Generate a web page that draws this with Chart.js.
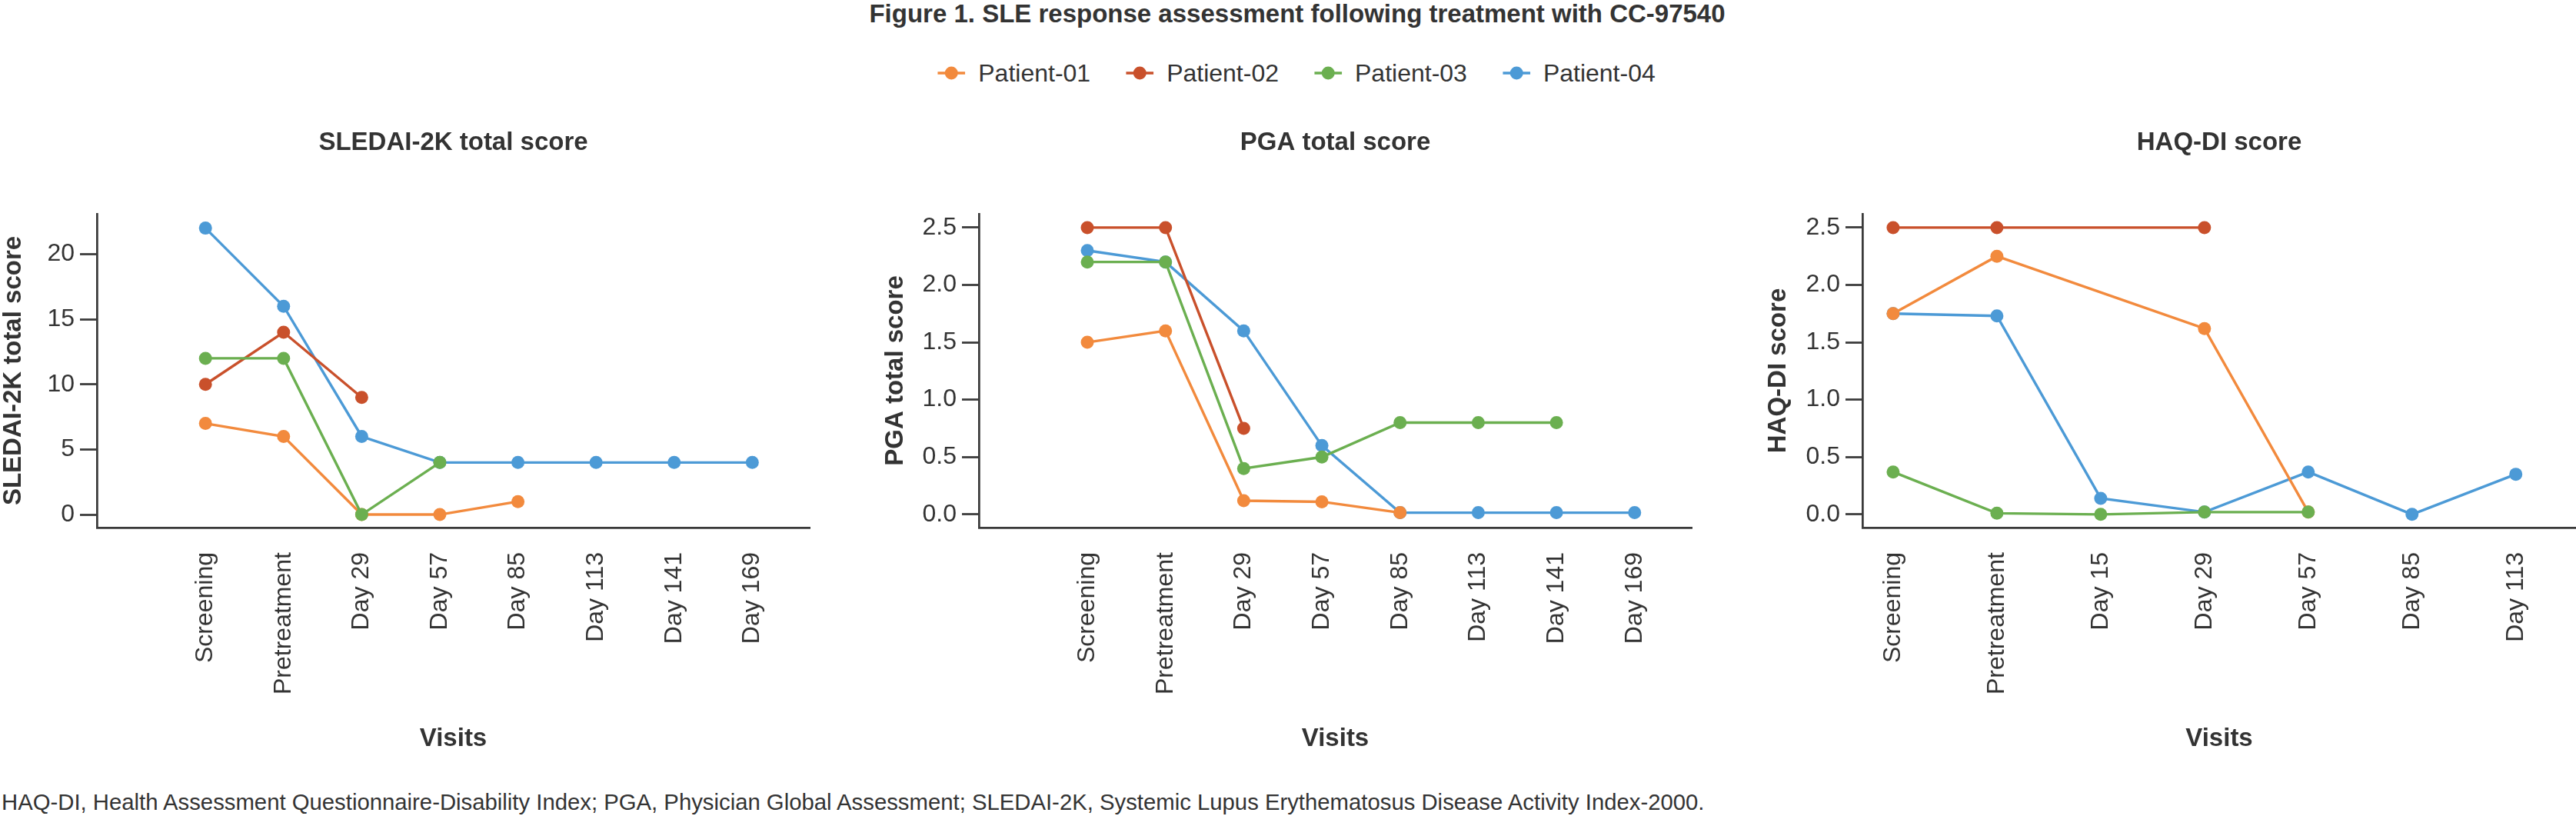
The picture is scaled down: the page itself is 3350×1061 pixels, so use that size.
<!DOCTYPE html>
<html>
<head>
<meta charset="utf-8">
<script src="https://cdn.jsdelivr.net/npm/chart.js@4.4.1/dist/chart.umd.min.js"></script>
<style>
html, body { margin: 0; padding: 0; background: #ffffff; overflow: hidden; }
body { width: 3350px; height: 1061px; position: relative; font-family: "Liberation Sans", Arial, Helvetica, sans-serif; color: #333333; }
#fig-title { position: absolute; left: 1687px; top: -2px; transform: translateX(-50%); white-space: nowrap; font-size: 33px; line-height: 40px; font-weight: bold; }
#legend { position: absolute; left: 1686px; top: 75px; transform: translateX(-50%); display: flex; align-items: center; white-space: nowrap; }
.leg-item { display: flex; align-items: center; margin: 0 23px; font-size: 32px; line-height: 40px; }
.leg-item svg { margin-right: 17px; }
#footnote { position: absolute; left: 2px; top: 1026px; white-space: nowrap; font-size: 29.3px; line-height: 34px; }
canvas { position: absolute; }
</style>
</head>
<body>
<div id="fig-title">Figure 1. SLE response assessment following treatment with CC-97540</div>
<div id="legend"></div>
<canvas id="c1" width="1100" height="860" style="left:0px;top:140px;"></canvas>
<canvas id="c2" width="1110" height="860" style="left:1140px;top:140px;"></canvas>
<canvas id="c3" width="1130" height="860" style="left:2270px;top:140px;"></canvas>
<div id="footnote">HAQ-DI, Health Assessment Questionnaire-Disability Index; PGA, Physician Global Assessment; SLEDAI-2K, Systemic Lupus Erythematosus Disease Activity Index-2000.</div>
<script>
// ---------- DATA ----------
const patients = ['Patient-01', 'Patient-02', 'Patient-03', 'Patient-04'];

const visitsSledai = ['Screening', 'Pretreatment', 'Day 29', 'Day 57', 'Day 85', 'Day 113', 'Day 141', 'Day 169'];
const visitsPga = ['Screening', 'Pretreatment', 'Day 29', 'Day 57', 'Day 85', 'Day 113', 'Day 141', 'Day 169'];
const visitsHaq = ['Screening', 'Pretreatment', 'Day 15', 'Day 29', 'Day 57', 'Day 85', 'Day 113'];

const sledai01 = [7, 6, 0, 0, 1];
const sledai02 = [10, 14, 9];
const sledai03 = [12, 12, 0, 4];
const sledai04 = [22, 16, 6, 4, 4, 4, 4, 4];

const pga01 = [1.5, 1.6, 0.12, 0.11, 0.015];
const pga02 = [2.5, 2.5, 0.75];
const pga03 = [2.2, 2.2, 0.4, 0.5, 0.8, 0.8, 0.8];
const pga04 = [2.3, 2.2, 1.6, 0.6, 0.015, 0.015, 0.015, 0.015];

const haq01 = [1.75, 2.25, null, 1.62, 0.02];
const haq02 = [2.5, 2.5, null, 2.5];
const haq03 = [0.37, 0.01, 0, 0.02, 0.02];
const haq04 = [1.75, 1.73, 0.14, 0.02, 0.37, 0, 0.35];

const sledaiTicks = [0, 5, 10, 15, 20];
const pgaTicks = [0, 0.5, 1, 1.5, 2, 2.5];
const haqTicks = [0, 0.5, 1, 1.5, 2, 2.5];

// ---------- STYLE ----------
const COLORS = ['#F28A3D', '#C9502B', '#6BAF50', '#4C9AD6'];
const DRAW_ORDER = [1, 2, 0, 3]; // lower = drawn on top
const AXIS = '#3a3a3a';
const TXT = '#333333';

Chart.defaults.font.family = '"Liberation Sans", Arial, Helvetica, sans-serif';
Chart.defaults.color = TXT;

// legend (HTML)
const legendEl = document.getElementById('legend');
patients.forEach((p, k) => {
  const item = document.createElement('div');
  item.className = 'leg-item';
  item.innerHTML = '<svg width="36" height="40" viewBox="0 0 36 40"><line x1="0" y1="20" x2="36" y2="20" stroke="' + COLORS[k] + '" stroke-width="3.5"/><circle cx="18" cy="20" r="8.5" fill="' + COLORS[k] + '"/></svg><span>' + p + '</span>';
  legendEl.appendChild(item);
});

function makePanel(canvasId, cfg) {
  const datasets = cfg.series.map((arr, k) => ({
    label: patients[k],
    data: arr.map((v, i) => ({ x: i, y: v })),
    borderColor: COLORS[k],
    backgroundColor: COLORS[k],
    pointBackgroundColor: COLORS[k],
    pointBorderColor: COLORS[k],
    pointBorderWidth: 0,
    pointRadius: 8.5,
    pointHoverRadius: 8.5,
    borderWidth: 3.4,
    tension: 0,
    spanGaps: true,
    order: DRAW_ORDER[k],
    clip: false
  }));
  return new Chart(document.getElementById(canvasId), {
    type: 'line',
    data: { datasets },
    options: {
      responsive: false,
      animation: false,
      events: [],
      layout: { padding: { left: 0, right: cfg.padRight, top: 0, bottom: 0 } },
      plugins: {
        legend: { display: false },
        tooltip: { enabled: false },
        title: {
          display: true, text: cfg.title, fullSize: false, color: TXT,
          font: { size: 33, weight: 'bold', lineHeight: 1.2 },
          padding: { top: 26.2, bottom: 72.2 }
        }
      },
      scales: {
        x: {
          type: 'linear', position: 'bottom', min: cfg.xMin, max: cfg.xMax,
          afterBuildTicks: s => { s.ticks = cfg.visits.map((_, i) => ({ value: i })); },
          afterFit: s => { s.height = 314; },
          ticks: {
            autoSkip: false, minRotation: 90, maxRotation: 90, padding: 32,
            font: { size: 32 }, color: TXT,
            callback: v => cfg.visits[v]
          },
          grid: { display: false, drawTicks: false, drawOnChartArea: false },
          border: { display: true, color: AXIS, width: 2.75 },
          title: {
            display: true, text: 'Visits', color: TXT,
            font: { size: 33, weight: 'bold', lineHeight: 1.2 },
            padding: { top: 0, bottom: 19.6 }
          }
        },
        y: {
          type: 'linear', position: 'left', min: cfg.yMin, max: cfg.yMax,
          afterBuildTicks: s => { s.ticks = cfg.yTicks.map(v => ({ value: v })); },
          afterFit: s => { s.width = cfg.yWidth; },
          ticks: {
            padding: 7, font: { size: 32 }, color: TXT,
            callback: v => Number(v).toFixed(cfg.decimals)
          },
          grid: { display: true, drawOnChartArea: false, drawTicks: true, tickLength: 22, tickWidth: 2.75, tickColor: AXIS },
          border: { display: true, color: AXIS, width: 2.75 },
          title: {
            display: true, text: cfg.yTitle, color: TXT,
            font: { size: 33, weight: 'bold', lineHeight: 1 },
            padding: { top: cfg.yTitlePad, bottom: 0 }
          }
        }
      }
    }
  });
}

makePanel('c1', {
  title: 'SLEDAI-2K total score', yTitle: 'SLEDAI-2K total score',
  visits: visitsSledai, series: [sledai01, sledai02, sledai03, sledai04],
  yTicks: sledaiTicks, decimals: 0, yMin: -1, yMax: 23.1,
  xMin: -1.39, xMax: 7.735, yWidth: 126, yTitlePad: 1, padRight: 47
});
makePanel('c2', {
  title: 'PGA total score', yTitle: 'PGA total score',
  visits: visitsPga, series: [pga01, pga02, pga03, pga04],
  yTicks: pgaTicks, decimals: 1, yMin: -0.115, yMax: 2.62,
  xMin: -1.387, xMax: 7.73, yWidth: 133, yTitlePad: 8.5, padRight: 50
});
makePanel('c3', {
  title: 'HAQ-DI score', yTitle: 'HAQ-DI score',
  visits: visitsHaq, series: [haq01, haq02, haq03, haq04],
  yTicks: haqTicks, decimals: 1, yMin: -0.115, yMax: 2.62,
  xMin: -0.296, xMax: 6.58, yWidth: 152, yTitlePad: 26.5, padRight: 50
});
</script>
</body>
</html>
